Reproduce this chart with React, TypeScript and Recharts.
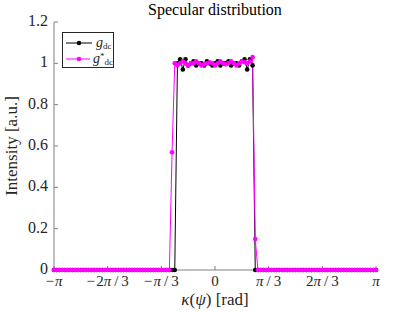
import React from 'react';
import { LineChart, Line, XAxis, YAxis, Legend } from 'recharts';

const PI = Math.PI;
// uniform angular grid, 121 samples from -pi to pi
const X_START = -PI;
const X_STEP = PI / 60;

const gDc = [
  0, 0, 0, 0, 0, 0, 0, 0, 0, 0, 0, 0, 0, 0, 0, 0, 0, 0, 0, 0,
  0, 0, 0, 0, 0, 0, 0, 0, 0, 0, 0, 0, 0, 0, 0, 0, 0, 0, 0, 0,
  0, 0, 0, 0, 0, 0,
  1.0, 1.02, 0.97, 1.02, 0.99, 1.0, 1.01, 0.99, 1.0, 1.0,
  0.99, 1.01, 1.0, 0.99, 1.0, 1.01, 0.99, 1.0, 1.0, 1.01,
  0.99, 1.0, 1.0, 0.99, 1.01, 1.02, 0.97, 1.02, 0.99,
  0, 0, 0, 0, 0, 0, 0, 0, 0, 0, 0, 0, 0, 0, 0, 0, 0, 0, 0, 0,
  0, 0, 0, 0, 0, 0, 0, 0, 0, 0, 0, 0, 0, 0, 0, 0, 0, 0, 0, 0,
  0, 0, 0, 0, 0, 0,
];

const gDcStar = [
  0, 0, 0, 0, 0, 0, 0, 0, 0, 0, 0, 0, 0, 0, 0, 0, 0, 0, 0, 0,
  0, 0, 0, 0, 0, 0, 0, 0, 0, 0, 0, 0, 0, 0, 0, 0, 0, 0, 0, 0,
  0, 0, 0, 0,
  0.57,
  1.0, 0.99, 1.0, 1.01, 1.0, 0.99, 1.0, 1.0, 1.01, 1.0,
  0.99, 0.995, 1.0, 1.005, 1.0, 0.99, 1.0, 1.01, 1.0, 0.995,
  1.0, 1.01, 1.0, 0.99, 1.0, 1.01, 1.005, 1.0, 1.01,
  1.03, 0.15,
  0, 0, 0, 0, 0, 0, 0, 0, 0, 0, 0, 0, 0, 0, 0, 0, 0, 0, 0, 0,
  0, 0, 0, 0, 0, 0, 0, 0, 0, 0, 0, 0, 0, 0, 0, 0, 0, 0, 0, 0,
  0, 0, 0, 0, 0,
];

const xTicks = [-PI, (-2 * PI) / 3, -PI / 3, 0, PI / 3, (2 * PI) / 3, PI];
const xTickLabels = ['−π', '−2π/3', '−π/3', '0', 'π/3', '2π/3', 'π'];
const yTicks = [0, 0.2, 0.4, 0.6, 0.8, 1, 1.2];
const yTickLabels = ['0', '0.2', '0.4', '0.6', '0.8', '1', '1.2'];

const data = gDc.map((g, i) => ({ x: X_START + i * X_STEP, g, gs: gDcStar[i] }));

const FONT = '"Liberation Serif", "DejaVu Serif", serif';
const AXIS = '#808080';
const TEXT = '#262626';

function PiTick({ x, y, payload }: any) {
  const idx = xTicks.findIndex((t) => Math.abs(t - payload.value) < 1e-9);
  const parts = (xTickLabels[idx] ?? '').split('π');
  return (
    <text x={x} y={y} dy={12} textAnchor="middle" fontFamily={FONT} fontSize={15} fill={TEXT}>
      {parts.map((p, i) => (
        <React.Fragment key={i}>
          {i > 0 && <tspan fontStyle="italic">π</tspan>}
          {p && <tspan>{p.replace('/', '\u2009/\u2009').replace('−', '−\u200a')}</tspan>}
        </React.Fragment>
      ))}
    </text>
  );
}

function YTick({ x, y, payload }: any) {
  const idx = yTicks.findIndex((t) => Math.abs(t - payload.value) < 1e-9);
  return (
    <text x={x} y={y} dy={4} textAnchor="end" fontFamily={FONT} fontSize={16} fill={TEXT}>
      {yTickLabels[idx]}
    </text>
  );
}

function LegendRow({ color, star }: { color: string; star?: boolean }) {
  return (
    <div style={{ display: 'flex', alignItems: 'center', height: 16 }}>
      <svg width={28} height={10}>
        <line x1={1} y1={5} x2={27} y2={5} stroke={color} strokeWidth={1} />
        <circle cx={14} cy={5} r={2.3} fill={color} />
      </svg>
      <span
        style={{
          marginLeft: 3, fontFamily: FONT, fontSize: 14, lineHeight: '14px', color: TEXT,
          display: 'inline-flex', alignItems: 'center',
        }}
      >
        <i>g</i>
        {star && (
          <span style={{ fontSize: 9, lineHeight: '8px', position: 'relative', top: -3 }}>*</span>
        )}
        <span style={{ fontSize: 9, lineHeight: '9px', position: 'relative', top: 3 }}>dc</span>
      </span>
    </div>
  );
}

function LegendBox() {
  return (
    <div
      style={{
        border: `1px solid ${TEXT}`,
        background: '#fff',
        width: 52,
        height: 36,
        padding: '2px 0 0 2px',
        boxSizing: 'border-box',
      }}
    >
      <LegendRow color="#000000" />
      <LegendRow color="#ff00ff" star />
    </div>
  );
}

export default function App() {
  return (
    <div style={{ position: 'absolute', left: 0, top: 0, width: 415, height: 312, background: '#fff' }}>
      <div
        style={{
          position: 'absolute', left: 0, top: 1, width: 430, textAlign: 'center',
          fontFamily: FONT, fontSize: 16, color: '#000',
        }}
      >
        Specular distribution
      </div>
      <div
        style={{
          position: 'absolute', left: 0, top: 291, width: 430, textAlign: 'center',
          fontFamily: FONT, fontSize: 17, lineHeight: '17px', color: TEXT,
        }}
      >
        <i>κ</i>(<i>ψ</i>) [rad]
      </div>
      <div style={{ position: 'absolute', left: 12, top: 146, width: 0, height: 0 }}>
        <div
          style={{
            position: 'absolute', left: 0, top: 0, whiteSpace: 'nowrap',
            transform: 'translate(-50%, -50%) rotate(-90deg)',
            fontFamily: FONT, fontSize: 17, color: TEXT,
          }}
        >
          Intensity [a.u.]
        </div>
      </div>
      <LineChart
        width={415}
        height={312}
        data={data}
        margin={{ top: 22, right: 39, bottom: 0, left: 10 }}
        style={{ position: 'absolute', left: 0, top: 0 }}
      >
        <XAxis
          dataKey="x"
          type="number"
          domain={[-PI, PI]}
          ticks={xTicks}
          height={42}
          stroke={AXIS}
          tickSize={-4}
          tickMargin={8}
          tick={<PiTick />}
          interval={0}
        />
        <XAxis
          xAxisId="top"
          orientation="top"
          dataKey="x"
          type="number"
          domain={[-PI, PI]}
          ticks={xTicks}
          height={0}
          stroke={AXIS}
          tickSize={-4}
          tick={false}
          interval={0}
        />
        <YAxis
          type="number"
          domain={[0, 1.2]}
          ticks={yTicks}
          width={44}
          stroke={AXIS}
          tickSize={-4}
          tickMargin={10}
          tick={<YTick />}
          interval={0}
        />
        <YAxis
          yAxisId="right"
          orientation="right"
          type="number"
          domain={[0, 1.2]}
          ticks={yTicks}
          width={0}
          stroke={AXIS}
          tickSize={-4}
          tick={false}
          interval={0}
        />
        <Legend
          layout="vertical"
          align="center"
          verticalAlign="middle"
          content={() => <LegendBox />}
          wrapperStyle={{ left: 62, top: 32, width: 52 }}
        />
        <Line
          dataKey="g"
          stroke="#000000"
          strokeWidth={1}
          dot={{ r: 2.3, fill: '#000000', stroke: 'none' }}
          type="linear"
          isAnimationActive={false}
        />
        <Line
          dataKey="gs"
          stroke="#ff00ff"
          strokeWidth={1}
          dot={{ r: 2.3, fill: '#ff00ff', stroke: 'none' }}
          type="linear"
          isAnimationActive={false}
        />
      </LineChart>
    </div>
  );
}
